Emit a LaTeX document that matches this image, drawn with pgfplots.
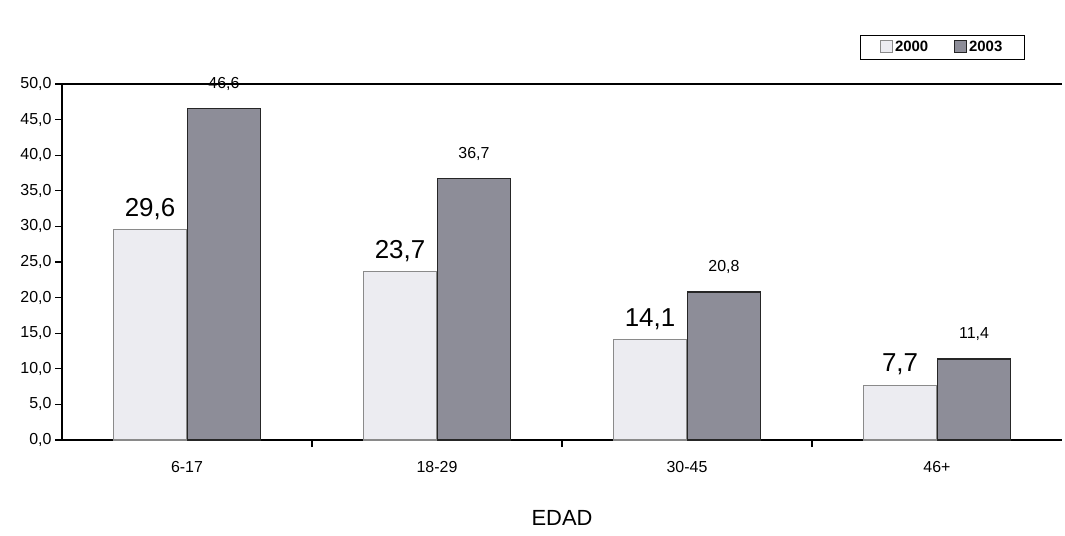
\documentclass[border=0pt]{standalone}
\usepackage{pgfplots}
\pgfplotsset{compat=1.18}
\usepackage{fontspec}
\setmainfont{Liberation Sans}
\definecolor{light}{HTML}{ECECF1}
\definecolor{dark}{HTML}{8D8D98}
\definecolor{lightedge}{HTML}{8A8A8A}
\begin{document}
\begin{tikzpicture}
\begin{axis}[
    name=ax,
    scale only axis,
    width=1000bp, height=356bp,
    ybar, bar width=73bp,
    xmin=-0.5, xmax=3.5,
    ymin=0, ymax=50,
    ytick={0,5,...,50},
    xtick={0.5,1.5,2.5},
    xticklabels={},
    extra x ticks={0,1,2,3},
    extra x tick labels={6-17,18-29,30-45,46+},
    extra x tick style={major tick length=0bp},
    tick align=outside,
    xtick pos=bottom, ytick pos=left,
    major tick length=7bp,
    tick style={line width=1.2pt, black},
    axis line style={line width=1.2pt},
    axis x line*=bottom, axis y line*=left,
    yticklabel style={/pgf/number format/.cd, fixed, fixed zerofill, precision=1, use comma, assume math mode=true},
    ticklabel style={font=\fontsize{16}{18}\selectfont},
    xticklabel style={yshift=-18bp},
    xlabel={EDAD},
    xlabel style={font=\fontsize{22}{24}\selectfont, yshift=-24bp},
    legend columns=2,
    legend style={at={(1,1)}, anchor=south east, xshift=-37bp, yshift=24bp,
        draw=black, line width=1.4pt, font=\fontsize{15}{17}\selectfont\bfseries,
        /tikz/every even column/.append style={column sep=24bp},
        inner xsep=20bp, inner ysep=4bp},
    legend image code/.code={\draw[#1, line width=0.8pt] (0bp,-5bp) rectangle (12bp,7bp);},
    clip=false,
]
\addplot[fill=light, draw=lightedge, line width=1.2pt, bar shift=-37bp,
    nodes near coords, nodes near coords style={font=\fontsize{26}{28}\selectfont, anchor=south, yshift=6bp, text=black, /pgf/number format/.cd, fixed, fixed zerofill, precision=1, use comma, assume math mode=true}]
    coordinates {(0,29.6) (1,23.7) (2,14.1) (3,7.7)};
\addplot[fill=dark, draw=black!85, line width=1.4pt, bar shift=37bp,
    nodes near coords, nodes near coords style={font=\fontsize{16}{18}\selectfont, anchor=south, yshift=14bp, text=black, /pgf/number format/.cd, fixed, fixed zerofill, precision=1, use comma, assume math mode=true}]
    coordinates {(0,46.6) (1,36.7) (2,20.8) (3,11.4)};
\legend{2000,2003}
\draw[line width=1.2pt] (rel axis cs:0,1) -- (rel axis cs:1,1);
\coordinate (sw) at (rel axis cs:0,0);
\coordinate (ne) at (rel axis cs:1,1);
\end{axis}
\pgfresetboundingbox
\path ([xshift=-62bp,yshift=-95bp]sw) rectangle ([xshift=3bp,yshift=84bp]ne);
\end{tikzpicture}
\end{document}
